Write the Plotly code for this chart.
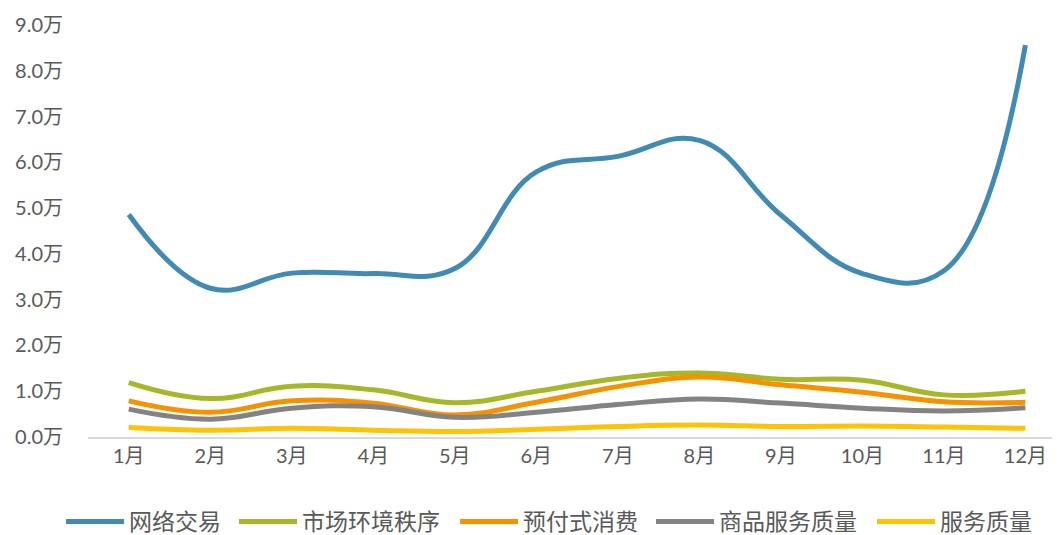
import plotly.graph_objects as go

months = ["1月", "2月", "3月", "4月", "5月", "6月", "7月", "8月", "9月", "10月", "11月", "12月"]
online = [4.86, 3.25, 3.58, 3.57, 3.68, 5.79, 6.13, 6.48, 4.85, 3.57, 3.63, 8.56]
market = [1.19, 0.84, 1.11, 1.03, 0.75, 1.00, 1.28, 1.40, 1.26, 1.24, 0.92, 1.00]
prepaid = [0.79, 0.54, 0.79, 0.74, 0.48, 0.76, 1.10, 1.31, 1.14, 0.98, 0.77, 0.76]
goods = [0.61, 0.39, 0.63, 0.66, 0.43, 0.54, 0.71, 0.83, 0.74, 0.63, 0.57, 0.64]
service = [0.21, 0.15, 0.19, 0.15, 0.12, 0.17, 0.23, 0.26, 0.23, 0.24, 0.22, 0.19]
yticks = [0, 1, 2, 3, 4, 5, 6, 7, 8, 9]
ytick_labels = [f"{v:.1f}万" for v in yticks]

series = [
    ("网络交易", online, "#418AB3"),
    ("市场环境秩序", market, "#A6B727"),
    ("预付式消费", prepaid, "#F69200"),
    ("商品服务质量", goods, "#838383"),
    ("服务质量", service, "#FEC306"),
]
# horizontal anchor (paper fraction) for each legend entry
legend_x = [-0.0278, 0.1505, 0.3784, 0.5804, 0.8082]

font_family = "Lato, 'Noto Sans CJK SC', sans-serif"
fig = go.Figure()
legend_layouts = {}
for i, (name, vals, color) in enumerate(series):
    lid = "legend" if i == 0 else f"legend{i + 1}"
    fig.add_trace(go.Scatter(
        x=months, y=vals, name=name, mode="lines", legend=lid,
        line=dict(color=color, width=5, shape="spline", smoothing=1.2),
    ))
    legend_layouts[lid] = dict(
        orientation="h", x=legend_x[i], xanchor="left", y=-0.205, yanchor="middle",
        font=dict(size=23, color="#595959"), itemwidth=58, bgcolor="rgba(0,0,0,0)",
    )

fig.update_layout(
    width=1052, height=527,
    margin=dict(l=80, r=2, t=17, b=98, autoexpand=False),
    plot_bgcolor="white", paper_bgcolor="white",
    font=dict(family=font_family, size=20, color="#595959"),
    showlegend=True,
    xaxis=dict(range=[-0.5, 11.4], showgrid=False, zeroline=False,
               showline=True, linecolor="#D9D9D9", linewidth=1.5,
               ticks="", tickfont=dict(size=20, color="#595959")),
    yaxis=dict(range=[0, 9], tickmode="array", tickvals=yticks, ticktext=ytick_labels,
               showgrid=False, zeroline=False, showline=False, ticks="",
               ticklabelstandoff=24, tickfont=dict(size=20, color="#595959")),
    **legend_layouts,
)

fig.write_html("out.html")
